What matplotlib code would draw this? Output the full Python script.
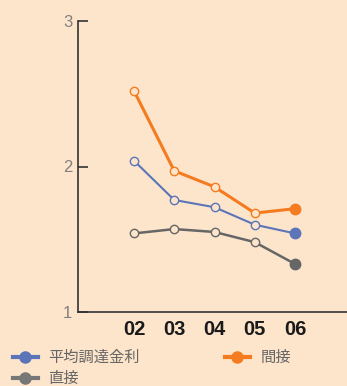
import matplotlib.pyplot as plt
from matplotlib.lines import Line2D
from matplotlib import font_manager

# データ
years = ['02', '03', '04', '05', '06']
heikin = [2.04, 1.77, 1.72, 1.60, 1.54]   # 平均調達金利
kansetsu = [2.52, 1.97, 1.86, 1.68, 1.71]  # 間接
chokusetsu = [1.54, 1.57, 1.55, 1.48, 1.33]  # 直接

bg = '#fde5cb'
c_blue = '#5b75b8'
c_orange = '#f47b20'
c_gray = '#777777'

names = [f.name for f in font_manager.fontManager.ttflist]
narrow = 'Liberation Sans Narrow' if 'Liberation Sans Narrow' in names else 'Liberation Sans'

plt.rcParams['font.family'] = ['Noto Sans CJK JP', 'DejaVu Sans']

fig = plt.figure(figsize=(3.47, 3.86), dpi=100, facecolor=bg)
ax = fig.add_axes([78 / 347, 1 - 312 / 386, 1 - 78 / 347, (312 - 21) / 386])
ax.set_facecolor(bg)

x = list(range(len(years)))


def serie(vals, color, lw):
    ax.plot(x, vals, color=color, lw=lw, zorder=2)
    ax.plot(x[:-1], vals[:-1], 'o', ms=6, mfc=bg, mec=color, mew=1.0, zorder=3)
    ax.plot(x[-1:], vals[-1:], 'o', ms=7.5, color=color, zorder=3)


serie(chokusetsu, '#666666', 1.8)
serie(heikin, c_blue, 1.5)
serie(kansetsu, c_orange, 2.2)

ax.set_xlim(-1.39, 5.29)
ax.set_ylim(1, 3)
ax.set_yticks([1, 2, 3])
ax.set_yticklabels(['1', '2', '3'], family=narrow, fontsize=12, color='#808080')
ax.tick_params(axis='y', direction='in', length=7.5, width=1.2, color='#333333', pad=4)
ax.set_xticks(x)
ax.set_xticklabels(years, family=narrow, fontsize=14.5, fontweight='bold', color='#1a1a1a')
ax.tick_params(axis='x', length=0, pad=6)
for s in ['top', 'right']:
    ax.spines[s].set_visible(False)
for s in ['left', 'bottom']:
    ax.spines[s].set_color('#333333')
    ax.spines[s].set_linewidth(1.2)

handles = [
    Line2D([], [], color=c_blue, lw=3, marker='o', ms=8),
    Line2D([], [], color=c_gray, lw=3, marker='o', ms=8),
    Line2D([], [], color=c_orange, lw=3, marker='o', ms=8),
]
labels = ['平均調達金利', '直接', '間接']
leg = fig.legend(handles, labels, ncol=2, loc='upper left', bbox_to_anchor=(10 / 347, 1 - 346 / 386),
                 frameon=False, fontsize=11, handlelength=1.6, handletextpad=0.7,
                 columnspacing=5.6, labelspacing=0.25, borderaxespad=0, borderpad=0.2)
for t in leg.get_texts():
    t.set_color('#666666')

fig.savefig('out.png', dpi=100, facecolor=bg)
